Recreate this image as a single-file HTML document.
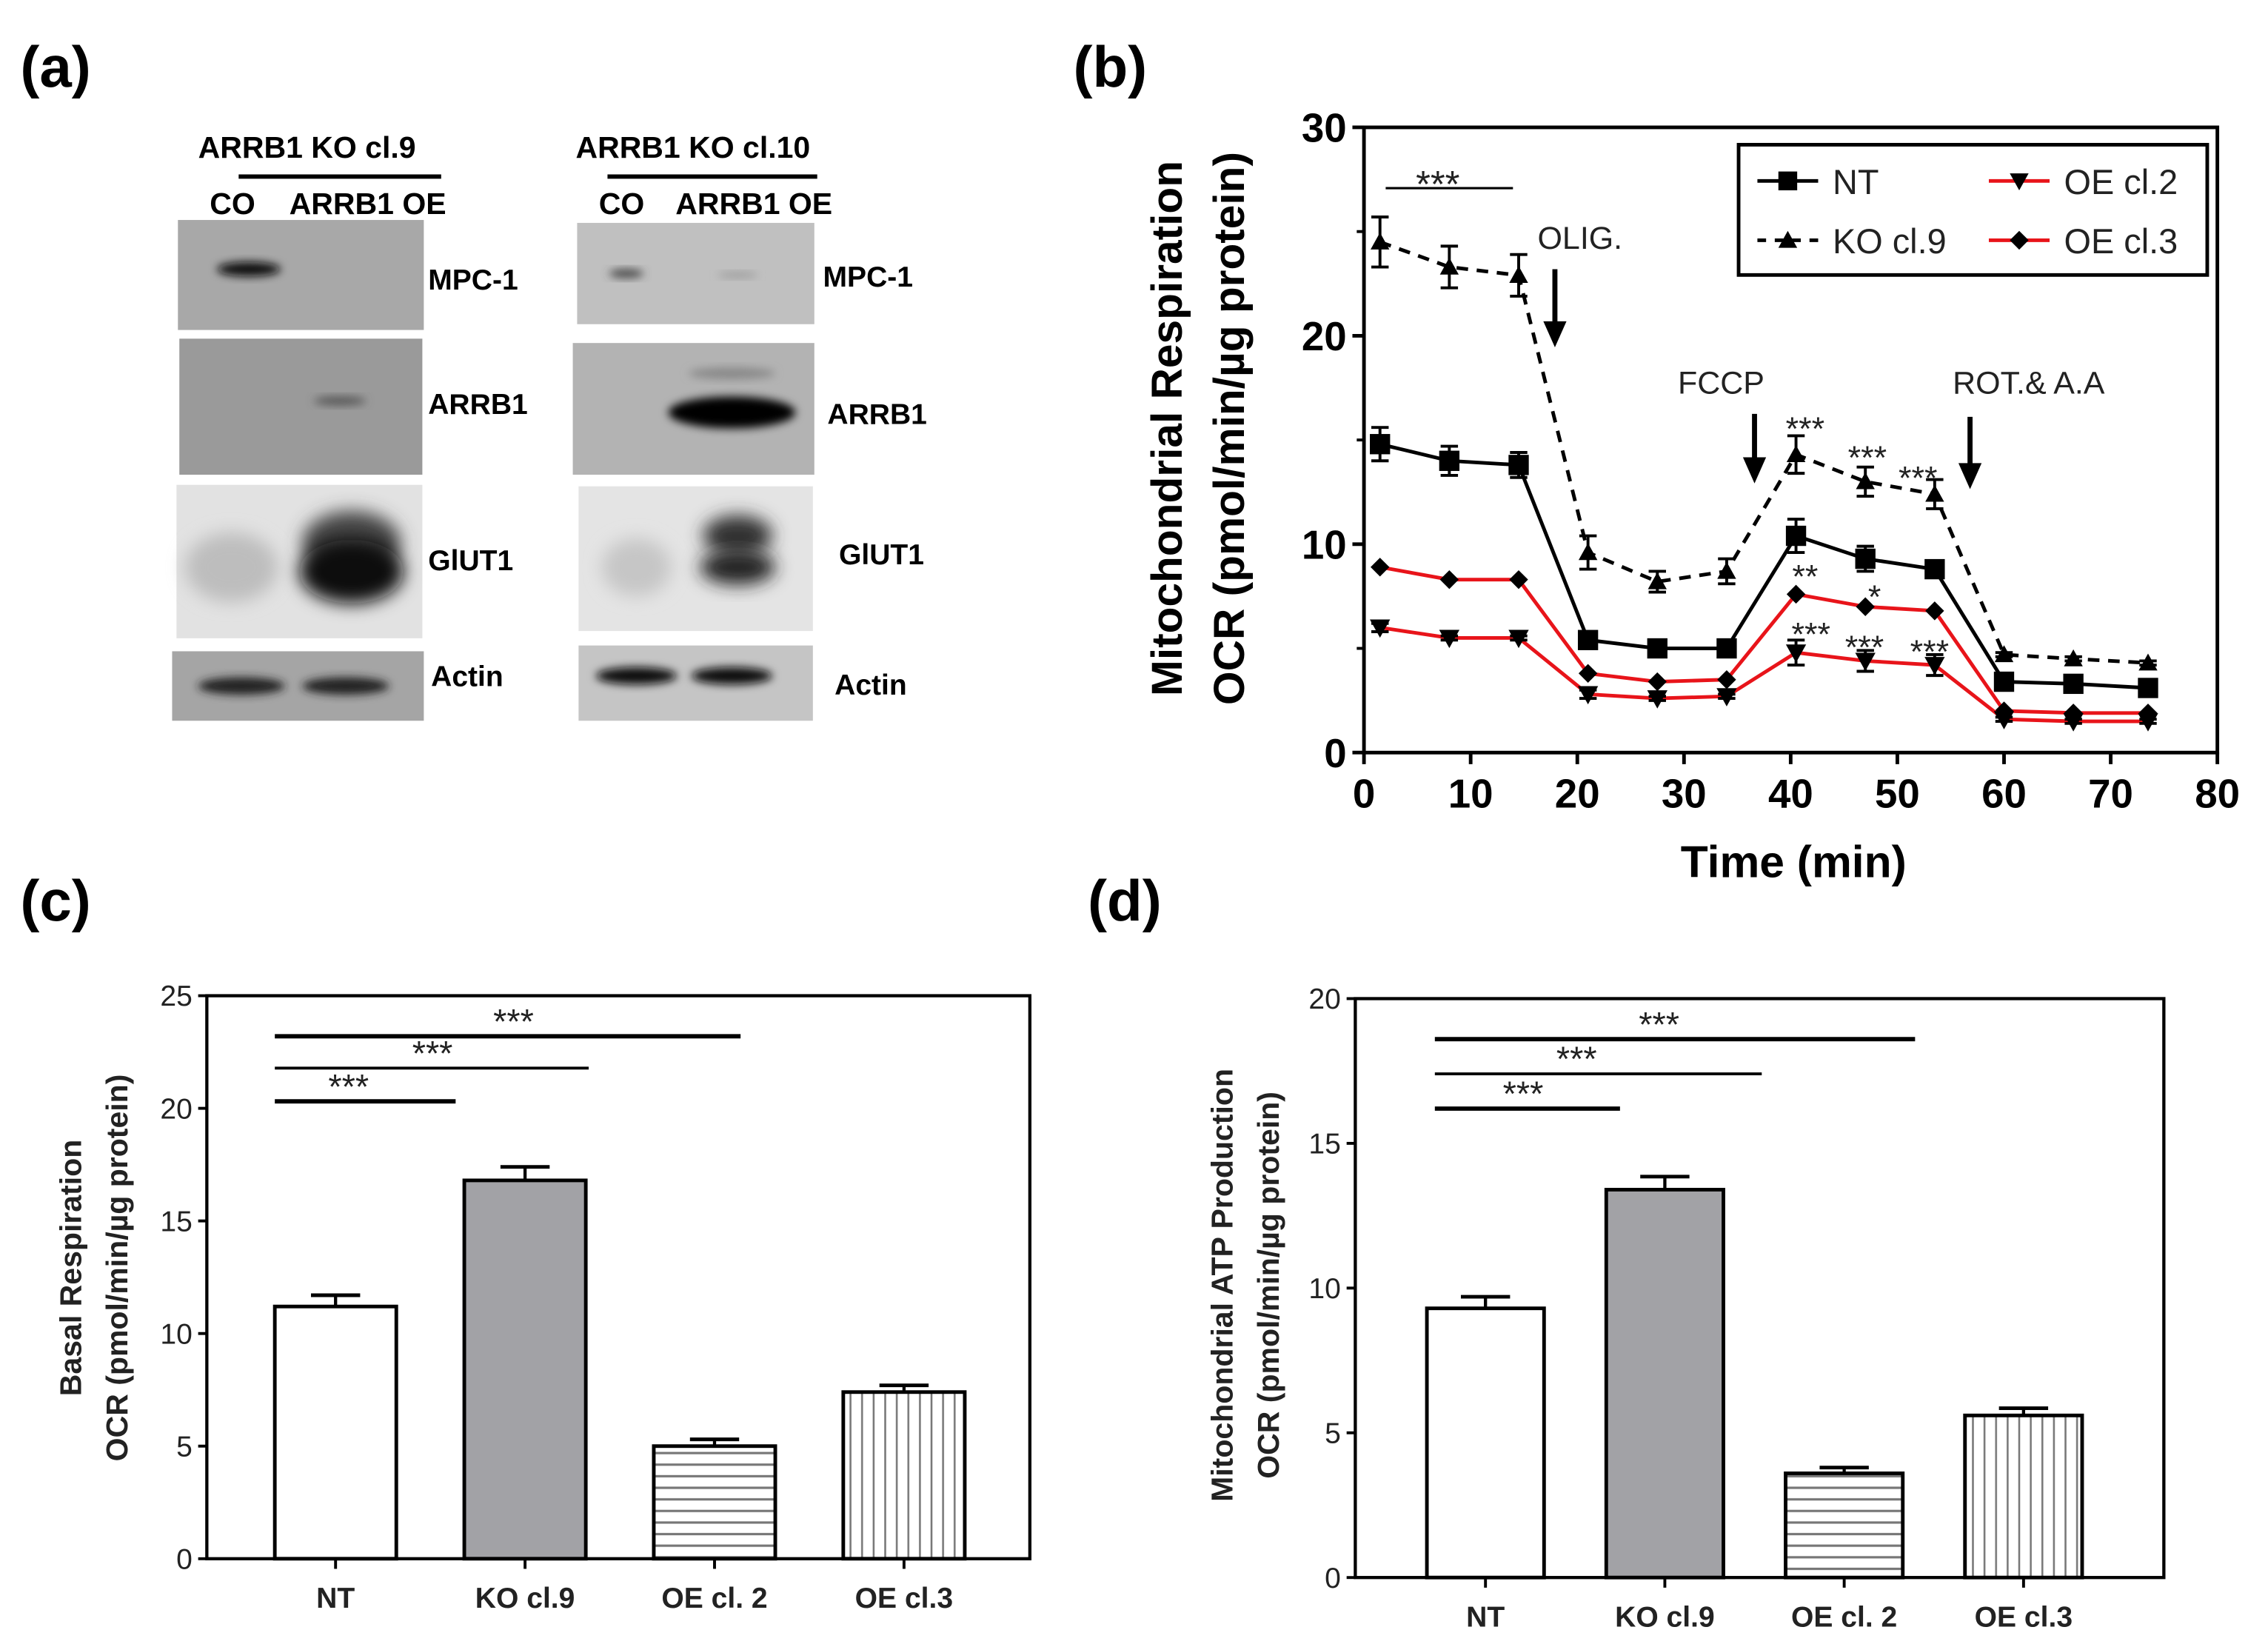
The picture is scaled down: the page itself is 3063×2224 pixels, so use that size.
<!DOCTYPE html>
<html><head><meta charset="utf-8"><style>
html,body{margin:0;padding:0;background:#fff}
svg{display:block}
text{font-family:"Liberation Sans",Arial,sans-serif}
</style></head><body>
<svg id="fig" width="3063" height="2224" viewBox="0 0 1568 1138" preserveAspectRatio="none" xmlns="http://www.w3.org/2000/svg">
<defs>
<filter id="blur2" x="-50%" y="-50%" width="200%" height="200%"><feGaussianBlur stdDeviation="3"/></filter>
<filter id="blur5" x="-50%" y="-50%" width="200%" height="200%"><feGaussianBlur stdDeviation="6"/></filter>
<pattern id="hstripe" width="10" height="8" patternUnits="userSpaceOnUse"><rect width="10" height="8" fill="#fff"/><line x1="0" y1="4" x2="10" y2="4" stroke="#777" stroke-width="1.6"/></pattern>
<pattern id="vstripe" width="8" height="10" patternUnits="userSpaceOnUse"><rect width="8" height="10" fill="#fff"/><line x1="4" y1="0" x2="4" y2="10" stroke="#777" stroke-width="1.3"/></pattern>
</defs>

<text x="14" y="60" font-size="40" font-weight="bold">(a)</text>
<text x="742" y="60" font-size="40" font-weight="bold">(b)</text>
<text x="14" y="636" font-size="40" font-weight="bold">(c)</text>
<text x="752" y="636" font-size="40" font-weight="bold">(d)</text>

<g id="blots" font-family="Liberation Sans" font-weight="bold">
  <text x="137" y="109" font-size="21">ARRB1 KO cl.9</text>
  <line x1="165" y1="122" x2="305" y2="122" stroke="#000" stroke-width="3"/>
  <text x="145" y="148" font-size="21">CO</text>
  <text x="200" y="148" font-size="21">ARRB1 OE</text>
  <text x="398" y="109" font-size="21">ARRB1 KO cl.10</text>
  <line x1="420" y1="122" x2="565" y2="122" stroke="#000" stroke-width="3"/>
  <text x="414" y="148" font-size="21">CO</text>
  <text x="467" y="148" font-size="21">ARRB1 OE</text>

  <rect x="123" y="152" width="170" height="76" fill="#a8a8a8"/>
  <ellipse cx="172" cy="186" rx="22" ry="5" fill="#111" filter="url(#blur2)"/>
  <rect x="124" y="234" width="168" height="94" fill="#9a9a9a"/>
  <ellipse cx="235" cy="277" rx="18" ry="3" fill="#555" filter="url(#blur2)"/>
  <rect x="122" y="335" width="170" height="106" fill="#e2e2e2"/>
  <ellipse cx="160" cy="392" rx="32" ry="24" fill="#bdbdbd" filter="url(#blur5)"/>
  <ellipse cx="243" cy="375" rx="34" ry="22" fill="#444" filter="url(#blur5)"/>
  <ellipse cx="243" cy="395" rx="36" ry="22" fill="#111" filter="url(#blur5)"/>
  <rect x="119" y="450" width="174" height="48" fill="#a5a5a5"/>
  <ellipse cx="167" cy="474" rx="30" ry="6" fill="#222" filter="url(#blur2)"/>
  <ellipse cx="239" cy="474" rx="30" ry="6" fill="#222" filter="url(#blur2)"/>
  <text x="296" y="200" font-size="20">MPC-1</text>
  <text x="296" y="286" font-size="20">ARRB1</text>
  <text x="296" y="394" font-size="20">GlUT1</text>
  <text x="298" y="474" font-size="20">Actin</text>

  <rect x="399" y="154" width="164" height="70" fill="#c0c0c0"/>
  <ellipse cx="433" cy="189" rx="12" ry="3" fill="#444" filter="url(#blur2)"/>
  <ellipse cx="510" cy="190" rx="14" ry="2" fill="#999" filter="url(#blur2)"/>
  <rect x="396" y="237" width="167" height="91" fill="#b3b3b3"/>
  <ellipse cx="506" cy="285" rx="44" ry="11" fill="#050505" filter="url(#blur2)"/>
  <ellipse cx="506" cy="258" rx="30" ry="4" fill="#888" filter="url(#blur2)"/>
  <rect x="400" y="336" width="162" height="100" fill="#e4e4e4"/>
  <ellipse cx="440" cy="392" rx="24" ry="20" fill="#c6c6c6" filter="url(#blur5)"/>
  <ellipse cx="510" cy="370" rx="24" ry="14" fill="#333" filter="url(#blur5)"/>
  <ellipse cx="510" cy="392" rx="26" ry="12" fill="#222" filter="url(#blur5)"/>
  <rect x="400" y="446" width="162" height="52" fill="#c5c5c5"/>
  <ellipse cx="440" cy="467" rx="28" ry="6" fill="#111" filter="url(#blur2)"/>
  <ellipse cx="506" cy="467" rx="28" ry="6" fill="#111" filter="url(#blur2)"/>
  <text x="569" y="198" font-size="20">MPC-1</text>
  <text x="572" y="293" font-size="20">ARRB1</text>
  <text x="580" y="390" font-size="20">GlUT1</text>
  <text x="577" y="480" font-size="20">Actin</text>
</g>

<g id="panelB"></g>
<g id="panelC"></g>
<g id="panelD"></g>
</svg>
<script>
const timePoints = [1.5, 8, 14.5, 21, 27.5, 34, 40.5, 47, 53.5, 60, 66.5, 73.5];
const ntValues  = [14.8, 14.0, 13.8, 5.4, 5.0, 5.0, 10.4, 9.3, 8.8, 3.4, 3.3, 3.1];
const ntErr     = [0.8, 0.7, 0.6, 0.3, 0.2, 0.2, 0.8, 0.6, 0.4, 0.2, 0.2, 0.2];
const koValues  = [24.5, 23.3, 22.9, 9.6, 8.2, 8.7, 14.3, 13.0, 12.4, 4.7, 4.5, 4.3];
const koErr     = [1.2, 1.0, 1.0, 0.8, 0.5, 0.6, 0.9, 0.7, 0.7, 0.1, 0.1, 0.1];
const oe2Values = [6.0, 5.5, 5.5, 2.8, 2.6, 2.7, 4.8, 4.4, 4.2, 1.6, 1.5, 1.5];
const oe2Err    = [0.2, 0.1, 0.1, 0.2, 0.1, 0.1, 0.6, 0.5, 0.5, 0.1, 0.1, 0.1];
const oe3Values = [8.9, 8.3, 8.3, 3.8, 3.4, 3.5, 7.6, 7.0, 6.8, 2.0, 1.9, 1.9];
const xTicksB = [0, 10, 20, 30, 40, 50, 60, 70, 80];
const yTicksB = [0, 10, 20, 30];

const barCategories = ["NT", "KO cl.9", "OE cl. 2", "OE cl.3"];
const basalValues = [11.2, 16.8, 5.0, 7.4];
const basalErr = [0.5, 0.6, 0.3, 0.3];
const yTicksC = [0, 5, 10, 15, 20, 25];

const atpValues = [9.3, 13.4, 3.6, 5.6];
const atpErr = [0.4, 0.45, 0.2, 0.25];
const yTicksD = [0, 5, 10, 15, 20];

const NS = "http://www.w3.org/2000/svg";
function mk(parent, tag, attrs, txt) {
  const e = document.createElementNS(NS, tag);
  for (const k in attrs) e.setAttribute(k, attrs[k]);
  if (txt !== undefined) e.textContent = txt;
  parent.appendChild(e);
  return e;
}

(function () {
  const g = document.getElementById('panelB');
  const X0 = 943, X1 = 1533, Y0 = 520, Y1 = 88;
  const xs = v => X0 + (v - 0) / 80 * (X1 - X0);
  const ys = v => Y0 - v / 30 * (Y0 - Y1);
  const frame = mk(g, 'rect', {x: X0, y: Y1, width: X1 - X0, height: Y0 - Y1, fill: 'none', stroke: '#000', 'stroke-width': 2.5});
  
  
  xTicksB.forEach(t => {
    mk(g, 'line', {x1: xs(t), y1: Y0, x2: xs(t), y2: Y0 + 8, stroke: '#000', 'stroke-width': 2.5});
    const tx = mk(g, 'text', {x: xs(t), y: Y0 + 38, 'font-size': 28, 'font-weight': 'bold', 'text-anchor': 'middle'}, String(t));
    
    
  });
  yTicksB.forEach(t => {
    mk(g, 'line', {x1: X0 - 8, y1: ys(t), x2: X0, y2: ys(t), stroke: '#000', 'stroke-width': 2.5});
    const tx = mk(g, 'text', {x: X0 - 12, y: ys(t) + 10, 'font-size': 28, 'font-weight': 'bold', 'text-anchor': 'end'}, String(t));
    
    
  });
  [5, 15, 25].forEach(t => mk(g, 'line', {x1: X0 - 5, y1: ys(t), x2: X0, y2: ys(t), stroke: '#000', 'stroke-width': 2}));
  const xt = mk(g, 'text', {x: 1240, y: 606, 'font-size': 31, 'font-weight': 'bold', 'text-anchor': 'middle'}, 'Time (min)');
  
  
  const yt1 = mk(g, 'text', {x: 0, y: 0, 'font-size': 30, 'font-weight': 'bold', 'text-anchor': 'middle', transform: 'translate(817,296) rotate(-90)'}, 'Mitochondrial Respiration');
  
  
  const yt2 = mk(g, 'text', {x: 0, y: 0, 'font-size': 30, 'font-weight': 'bold', 'text-anchor': 'middle', transform: 'translate(860,296) rotate(-90)'}, 'OCR (pmol/min/\u00b5g protein)');
  
  

  function marker(par, type, cx, cy, s) {
    if (type === 'square') return mk(par, 'rect', {x: cx - s, y: cy - s, width: 2 * s, height: 2 * s, fill: '#000'});
    if (type === 'tri') return mk(par, 'polygon', {points: `${cx},${cy - s} ${cx - s},${cy + s * 0.8} ${cx + s},${cy + s * 0.8}`, fill: '#000'});
    if (type === 'itri') return mk(par, 'polygon', {points: `${cx},${cy + s} ${cx - s},${cy - s * 0.8} ${cx + s},${cy - s * 0.8}`, fill: '#000'});
    return mk(par, 'polygon', {points: `${cx},${cy - s} ${cx + s},${cy} ${cx},${cy + s} ${cx - s},${cy}`, fill: '#000'});
  }
  function series(name, vals, errs, color, dash, mtype, ms) {
    const sg = mk(g, 'g', {});
    
    
    const pts = vals.map((v, i) => xs(timePoints[i]) + ',' + ys(v)).join(' ');
    const ln = mk(sg, 'polyline', {points: pts, fill: 'none', stroke: color, 'stroke-width': 2.5});
    if (dash) ln.setAttribute('stroke-dasharray', '8,6');
    vals.forEach((v, i) => {
      const cx = xs(timePoints[i]);
      if (errs) {
        const e = errs[i];
        mk(sg, 'line', {x1: cx, y1: ys(v + e), x2: cx, y2: ys(v - e), stroke: '#000', 'stroke-width': 2});
        mk(sg, 'line', {x1: cx - 6, y1: ys(v + e), x2: cx + 6, y2: ys(v + e), stroke: '#000', 'stroke-width': 2});
        mk(sg, 'line', {x1: cx - 6, y1: ys(v - e), x2: cx + 6, y2: ys(v - e), stroke: '#000', 'stroke-width': 2});
      }
      const m = marker(sg, mtype, cx, ys(v), ms);
      
      
    });
  }
  series('series-ko-cl9', koValues, koErr, '#000', true, 'tri', 6.5);
  series('series-nt', ntValues, ntErr, '#000', false, 'square', 7);
  series('series-oe-cl3', oe3Values, null, '#e8141a', false, 'diamond', 6.5);
  series('series-oe-cl2', oe2Values, oe2Err, '#e8141a', false, 'itri', 7);

  const ann = mk(g, 'g', {fill: '#222'});
  
  
  mk(ann, 'line', {x1: 958, y1: 130, x2: 1046, y2: 130, stroke: '#000', 'stroke-width': 1.6});
  mk(ann, 'text', {x: 994, y: 136, 'font-size': 26, 'text-anchor': 'middle'}, '***');
  mk(ann, 'text', {x: 1063, y: 172, 'font-size': 22}, 'OLIG.');
  mk(ann, 'text', {x: 1160, y: 272, 'font-size': 22}, 'FCCP');
  mk(ann, 'text', {x: 1350, y: 272, 'font-size': 22}, 'ROT.& A.A');
  function arrow(x, yTop, yBot) {
    mk(ann, 'line', {x1: x, y1: yTop, x2: x, y2: yBot - 14, stroke: '#000', 'stroke-width': 3.5});
    mk(ann, 'polygon', {points: `${x - 8},${yBot - 18} ${x + 8},${yBot - 18} ${x},${yBot}`, fill: '#000'});
  }
  arrow(1075, 186, 240); arrow(1213, 286, 334); arrow(1362, 288, 338);
  [[1248, 304, '***'], [1291, 324, '***'], [1326, 338, '***'], [1248, 406, '**'], [1296, 420, '*'],
   [1252, 446, '***'], [1289, 455, '***'], [1334, 458, '***']].forEach(a => {
    mk(ann, 'text', {x: a[0], y: a[1], 'font-size': 23, 'text-anchor': 'middle'}, a[2]);
  });

  const lg = mk(g, 'g', {});
  
  
  mk(lg, 'rect', {x: 1202, y: 100, width: 324, height: 90, fill: '#fff', stroke: '#000', 'stroke-width': 2.5});
  const entries = [
    ['NT', 1215, 125, '#000', false, 'square'],
    ['KO cl.9', 1215, 166, '#000', true, 'tri'],
    ['OE cl.2', 1375, 125, '#e8141a', false, 'itri'],
    ['OE cl.3', 1375, 166, '#e8141a', false, 'diamond']];
  entries.forEach(en => {
    const eg = mk(lg, 'g', {});
    
    
    const l = mk(eg, 'line', {x1: en[1], y1: en[2], x2: en[1] + 42, y2: en[2], stroke: en[3], 'stroke-width': 2.5});
    if (en[4]) l.setAttribute('stroke-dasharray', '6,6');
    marker(eg, en[5], en[1] + 21, en[2], 6.5);
    mk(eg, 'text', {x: en[1] + 52, y: en[2] + 9, 'font-size': 24, fill: '#222'}, en[0]);
  });
})();

function barPanel(gid, cfg) {
  const g = document.getElementById(gid);
  const {X0, X1, Y0, Y1, ymax, yTicks, vals, errs, centers, bw, title1, title2, t1x, t2x, tcy, sig} = cfg;
  const ys = v => Y0 - v / ymax * (Y0 - Y1);
  const fr = mk(g, 'rect', {x: X0, y: Y1, width: X1 - X0, height: Y0 - Y1, fill: 'none', stroke: '#000', 'stroke-width': 2.2});
  
  
  yTicks.forEach(t => {
    mk(g, 'line', {x1: X0 - 6, y1: ys(t), x2: X0, y2: ys(t), stroke: '#000', 'stroke-width': 2});
    const tx = mk(g, 'text', {x: X0 - 10, y: ys(t) + 7, 'font-size': 20, 'text-anchor': 'end', fill: '#222'}, String(t));
    
    
  });
  const fills = ['#fff', '#a2a2a6', 'url(#hstripe)', 'url(#vstripe)'];
  vals.forEach((v, i) => {
    const cx = centers[i];
    const r = mk(g, 'rect', {x: cx - bw / 2, y: ys(v), width: bw, height: Y0 - ys(v), fill: fills[i], stroke: '#000', 'stroke-width': 2.5});
    
    
    const e = errs[i];
    mk(g, 'line', {x1: cx, y1: ys(v), x2: cx, y2: ys(v + e), stroke: '#000', 'stroke-width': 2.2});
    mk(g, 'line', {x1: cx - 17, y1: ys(v + e), x2: cx + 17, y2: ys(v + e), stroke: '#000', 'stroke-width': 2.5});
    mk(g, 'line', {x1: cx, y1: Y0, x2: cx, y2: Y0 + 7, stroke: '#000', 'stroke-width': 2});
    const lb = mk(g, 'text', {x: cx, y: Y0 + 34, 'font-size': 20, 'font-weight': 'bold', 'text-anchor': 'middle', fill: '#222'}, barCategories[i]);
    
    
  });
  const a1 = mk(g, 'text', {x: 0, y: 0, 'font-size': 21, 'font-weight': 'bold', 'text-anchor': 'middle', fill: '#222', transform: `translate(${t1x},${tcy}) rotate(-90)`}, title1);
  
  
  const a2 = mk(g, 'text', {x: 0, y: 0, 'font-size': 21, 'font-weight': 'bold', 'text-anchor': 'middle', fill: '#222', transform: `translate(${t2x},${tcy}) rotate(-90)`}, title2);
  
  
  sig.forEach(s => {
    const sg = mk(g, 'g', {});
    
    
    mk(sg, 'line', {x1: s[0], y1: s[2], x2: s[1], y2: s[2], stroke: '#000', 'stroke-width': s[4]});
    mk(sg, 'text', {x: s[3], y: s[2] - 2, 'font-size': 24, 'text-anchor': 'middle', fill: '#222'}, '***');
  });
}
barPanel('panelC', {X0: 143, X1: 712, Y0: 1077, Y1: 688, ymax: 25, yTicks: yTicksC,
  vals: basalValues, errs: basalErr, centers: [232, 363, 494, 625], bw: 84,
  title1: 'Basal Respiration', title2: 'OCR (pmol/min/\u00b5g protein)', t1x: 56, t2x: 88, tcy: 876,
  sig: [[190, 512, 716, 355, 3], [190, 407, 738, 299, 2], [190, 315, 761, 241, 3]]});
barPanel('panelD', {X0: 937, X1: 1496, Y0: 1090, Y1: 690, ymax: 20, yTicks: yTicksD,
  vals: atpValues, errs: atpErr, centers: [1027, 1151, 1275, 1399], bw: 81,
  title1: 'Mitochondrial ATP Production', title2: 'OCR (pmol/min/\u00b5g protein)', t1x: 852, t2x: 884, tcy: 888,
  sig: [[992, 1324, 718, 1147, 3], [992, 1218, 742, 1090, 2], [992, 1120, 766, 1053, 3]]});
</script>
</body></html>
